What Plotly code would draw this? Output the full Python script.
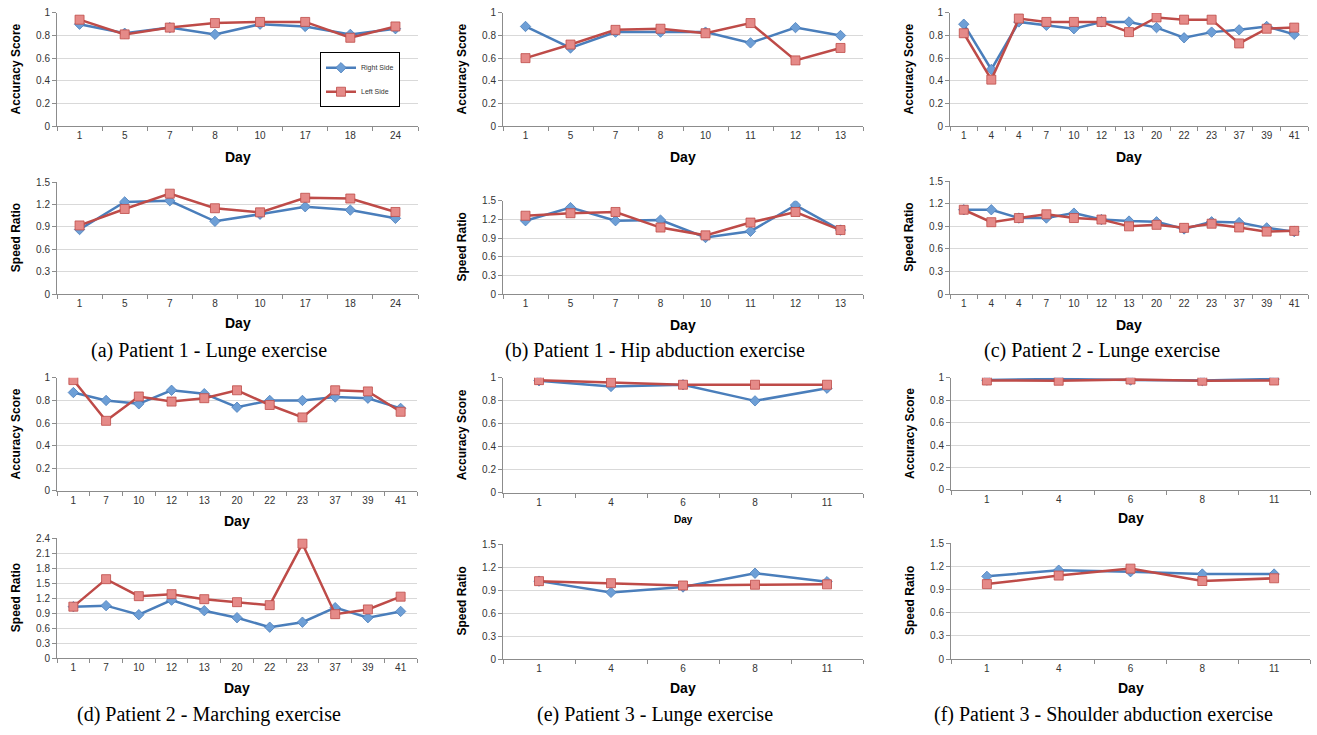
import plotly.graph_objects as go

W, H = 1317, 735

# ---------------- data ----------------
days_a = ["1", "5", "7", "8", "10", "17", "18", "24"]
acc_right_a = [0.90, 0.82, 0.87, 0.81, 0.90, 0.88, 0.81, 0.86]
acc_left_a = [0.94, 0.81, 0.87, 0.91, 0.92, 0.92, 0.78, 0.88]
spd_right_a = [0.865, 1.235, 1.25, 0.975, 1.07, 1.17, 1.125, 1.015]
spd_left_a = [0.92, 1.14, 1.345, 1.15, 1.095, 1.29, 1.28, 1.10]

days_b = ["1", "5", "7", "8", "10", "11", "12", "13"]
acc_right_b = [0.88, 0.69, 0.83, 0.83, 0.83, 0.735, 0.87, 0.80]
acc_left_b = [0.60, 0.72, 0.85, 0.86, 0.82, 0.91, 0.58, 0.69]
spd_right_b = [1.18, 1.39, 1.18, 1.19, 0.91, 1.01, 1.43, 1.03]
spd_left_b = [1.26, 1.30, 1.32, 1.07, 0.945, 1.15, 1.32, 1.03]

days_c = ["1", "4", "4", "7", "10", "12", "13", "20", "22", "23", "37", "39", "41"]
acc_right_c = [0.90, 0.50, 0.92, 0.89, 0.86, 0.92, 0.92, 0.87, 0.78, 0.83, 0.85, 0.88, 0.81]
acc_left_c = [0.82, 0.41, 0.95, 0.92, 0.92, 0.92, 0.83, 0.96, 0.94, 0.94, 0.73, 0.86, 0.87]
spd_right_c = [1.12, 1.12, 1.01, 1.01, 1.075, 0.99, 0.97, 0.96, 0.865, 0.96, 0.95, 0.88, 0.83]
spd_left_c = [1.12, 0.955, 1.01, 1.06, 1.01, 0.99, 0.90, 0.92, 0.88, 0.935, 0.885, 0.83, 0.84]

days_d = ["1", "7", "10", "12", "13", "20", "22", "23", "37", "39", "41"]
acc_right_d = [0.87, 0.80, 0.77, 0.89, 0.86, 0.74, 0.80, 0.80, 0.83, 0.82, 0.73]
acc_left_d = [0.98, 0.62, 0.835, 0.79, 0.82, 0.89, 0.76, 0.65, 0.89, 0.88, 0.70]
spd_right_d = [1.03, 1.05, 0.87, 1.16, 0.95, 0.81, 0.62, 0.72, 1.01, 0.81, 0.935]
spd_left_d = [1.03, 1.58, 1.24, 1.28, 1.18, 1.12, 1.06, 2.29, 0.88, 0.975, 1.23]

days_e = ["1", "4", "6", "8", "11"]
acc_right_e = [0.975, 0.925, 0.94, 0.80, 0.91]
acc_left_e = [0.98, 0.96, 0.94, 0.94, 0.94]
spd_right_e = [1.017, 0.87, 0.94, 1.12, 1.01]
spd_left_e = [1.017, 0.99, 0.96, 0.97, 0.975]

days_f = ["1", "4", "6", "8", "11"]
acc_right_f = [0.98, 0.99, 0.98, 0.976, 0.99]
acc_left_f = [0.976, 0.974, 0.985, 0.974, 0.976]
spd_right_f = [1.07, 1.15, 1.13, 1.10, 1.10]
spd_left_f = [0.97, 1.08, 1.17, 1.01, 1.045]

captions = [
    "(a) Patient 1 - Lunge exercise",
    "(b) Patient 1 - Hip abduction exercise",
    "(c) Patient 2 - Lunge exercise",
    "(d) Patient 2 - Marching exercise",
    "(e) Patient 3 - Lunge exercise",
    "(f) Patient 3 - Shoulder abduction exercise",
]

panels = [
    (days_a, acc_right_a, acc_left_a, spd_right_a, spd_left_a),
    (days_b, acc_right_b, acc_left_b, spd_right_b, spd_left_b),
    (days_c, acc_right_c, acc_left_c, spd_right_c, spd_left_c),
    (days_d, acc_right_d, acc_left_d, spd_right_d, spd_left_d),
    (days_e, acc_right_e, acc_left_e, spd_right_e, spd_left_e),
    (days_f, acc_right_f, acc_left_f, spd_right_f, spd_left_f),
]

# ---------------- layout geometry (pixels) ----------------
# (x0, x1, acc_top, acc_bottom, spd_top, spd_bottom, spd_max)
geom = [
    (57, 418, 7, 122, 179, 293, 1.5),
    (503, 863, 7, 122, 198, 293, 1.5),
    (950, 1308, 7, 122, 178, 293, 1.5),
    (57, 417, 378, 493, 541, 663, 2.4),
    (503, 863, 378, 495, 547, 664, 1.5),
    (951, 1310, 378, 492, 546, 664, 1.5),
]
caption_pos = [(209, 350), (655, 350), (1102, 350), (209, 720), (655, 720), (1103, 720)]
acc_day_y = [153, 153, 153, 524, 522, 521]
acc_day_size = [14, 14, 14, 14, 10, 14]
spd_day_y = [322, 324, 324, 693, 693, 693]

BLUE = "#4A7EBB"
RED = "#BE4B48"
BLUE_M = "#6E9FD6"
RED_M = "#E58A88"
GRID = "#D9D9D9"
AXIS = "#8C8C8C"
TICKFONT = dict(family="Liberation Sans, Arial, sans-serif", size=10, color="#333333")
TITLEFONT = dict(family="Liberation Sans, Arial, sans-serif", size=12, color="#000000")


def px_x(p):
    return p / W


def px_y(p):
    return 1 - p / H


fig = go.Figure()
layout = dict(
    width=W, height=H, margin=dict(l=0, r=0, t=0, b=0),
    paper_bgcolor="white", plot_bgcolor="white",
    showlegend=True,
    legend=dict(
        x=px_x(320), y=px_y(47), xanchor="left", yanchor="top",
        bordercolor="black", borderwidth=1, bgcolor="white",
        font=dict(family="Liberation Sans, Arial, sans-serif", size=7, color="#333333"),
        itemwidth=30, tracegroupgap=5, traceorder="grouped",
    ),
)
annotations = []

idx = 0
for p, (days, ar, al, sr, sl) in enumerate(panels):
    x0, x1, at, ab, st, sb, smax = geom[p]
    n = len(days)
    xs = list(range(n))
    for row in range(2):
        idx += 1
        xa = "x" if idx == 1 else f"x{idx}"
        ya = "y" if idx == 1 else f"y{idx}"
        if row == 0:
            top, bot, ymax, right, left = at, ab, 1.0, ar, al
            dtick = 0.2
            ytitle = "Accuracy Score"
        else:
            top, bot, ymax, right, left = st, sb, smax, sr, sl
            dtick = 0.3
            ytitle = "Speed Ratio"
        show = (p == 0 and row == 0)
        fig.add_trace(go.Scatter(
            x=xs, y=right, mode="lines+markers", name="Right Side",
            xaxis=xa, yaxis=ya, showlegend=show, legendgroup="right",
            line=dict(color=BLUE, width=2.5),
            marker=dict(symbol="diamond", size=8, color=BLUE_M, line=dict(color=BLUE, width=0.8)),
        ))
        fig.add_trace(go.Scatter(
            x=xs, y=left, mode="lines+markers", name="Left Side",
            xaxis=xa, yaxis=ya, showlegend=show, legendgroup="left",
            line=dict(color=RED, width=2.5),
            marker=dict(symbol="square", size=9, color=RED_M, line=dict(color=RED, width=0.8)),
        ))
        key = "" if idx == 1 else str(idx)
        layout["xaxis" + key] = dict(
            domain=[px_x(x0), px_x(x1)], anchor=ya,
            range=[-0.5, n - 0.5], tickmode="array", tickvals=xs, ticktext=days,
            ticks="", showgrid=False, zeroline=False, fixedrange=True,
            showline=True, linecolor=AXIS, linewidth=1,
            tickfont=TICKFONT,
            minor=dict(tickmode="array", tickvals=[k - 0.5 for k in range(n + 1)],
                       ticks="outside", ticklen=4, tickcolor=AXIS, showgrid=False),
        )
        layout["yaxis" + key] = dict(
            domain=[px_y(bot), px_y(top)], anchor=xa,
            range=[0, ymax], tickmode="linear", tick0=0, dtick=dtick,
            ticks="outside", ticklen=4, tickcolor=AXIS,
            showgrid=True, gridcolor=GRID, gridwidth=1, zeroline=False,
            showline=True, linecolor=AXIS, linewidth=1, fixedrange=True,
            tickfont=TICKFONT,
        )
        # y-axis title
        annotations.append(dict(
            text=f"<b>{ytitle}</b>", textangle=-90, showarrow=False,
            xref="paper", yref="paper", x=px_x(x0 - 41), y=px_y((top + bot) / 2),
            xanchor="center", yanchor="middle", font=TITLEFONT,
        ))
        # x-axis title
        dy = acc_day_y[p] if row == 0 else spd_day_y[p]
        ds = acc_day_size[p] if row == 0 else 14
        annotations.append(dict(
            text="<b>Day</b>", showarrow=False,
            xref="paper", yref="paper", x=px_x((x0 + x1) / 2), y=px_y(dy),
            xanchor="center", yanchor="middle",
            font=dict(family="Liberation Sans, Arial, sans-serif", size=ds, color="#000000"),
        ))
    cx, cy = caption_pos[p]
    annotations.append(dict(
        text=captions[p], showarrow=False, xref="paper", yref="paper",
        x=px_x(cx), y=px_y(cy), xanchor="center", yanchor="middle",
        font=dict(family="Liberation Serif, Times New Roman, serif", size=20, color="#000000"),
    ))

layout["annotations"] = annotations
layout["hovermode"] = False
fig.update_layout(**layout)
fig.write_html(
    "out.html",
    config={"displayModeBar": False, "staticPlot": False},
    post_script="document.body.style.margin='0';document.body.style.overflow='hidden';",
)
